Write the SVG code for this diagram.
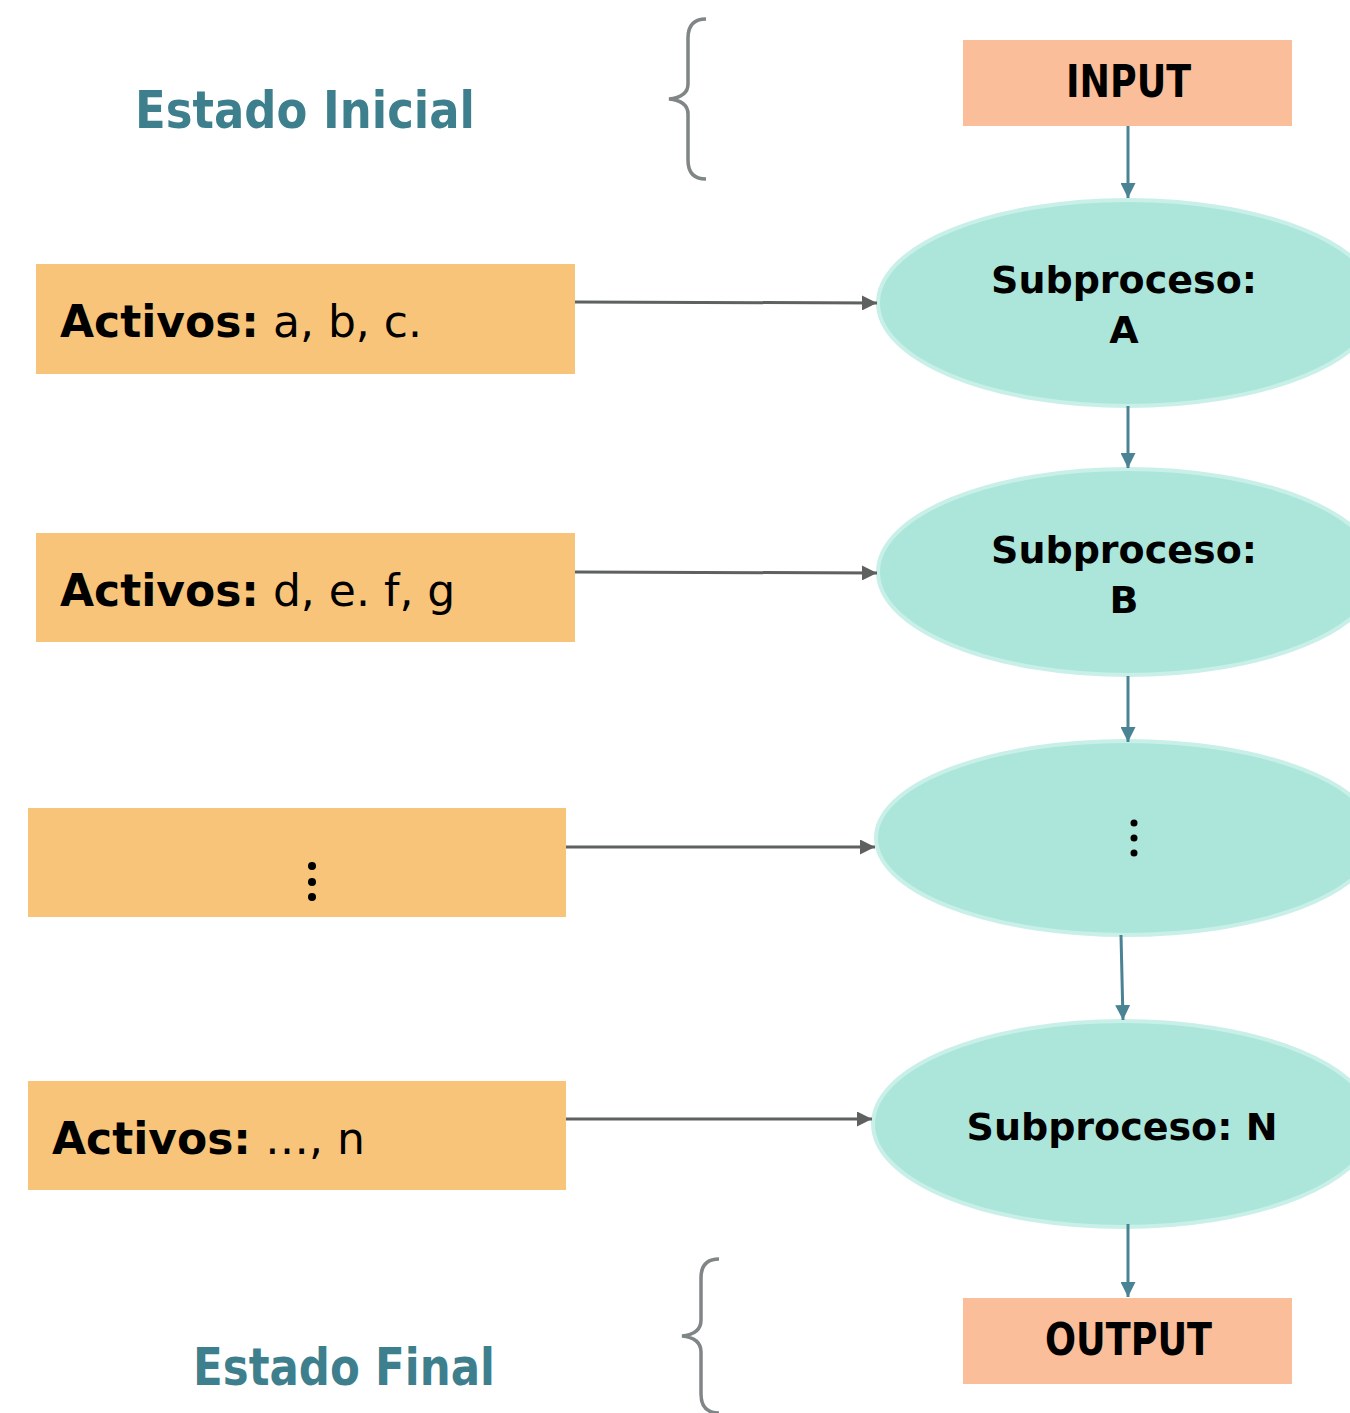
<svg xmlns="http://www.w3.org/2000/svg" width="1350" height="1413" viewBox="0 0 1350 1413">
<defs>
<style>
.ell{fill:#ACE6DA;stroke:#C9F0E8;stroke-width:4}
.org{fill:#F8C47A}
.pch{fill:#FBBE9A}
.lbl{font-family:"DejaVu Sans",sans-serif;font-weight:bold;fill:#000}
.act{font-family:"DejaVu Sans",sans-serif;font-size:44px;fill:#000}
.st{font-family:"DejaVu Sans",sans-serif;font-weight:bold;font-size:52px;fill:#3E7F8E}
.brace{fill:none;stroke:#7F8685;stroke-width:3.5}
.ga{stroke:#5F6060;stroke-width:3;fill:none;marker-end:url(#mg)}
.ba{stroke:#4A8394;stroke-width:3;fill:none;marker-end:url(#mb)}
</style>
<marker id="mg" viewBox="0 0 10 10" refX="10" refY="5" markerWidth="5" markerHeight="5" orient="auto" markerUnits="strokeWidth"><path d="M0,0 L10,5 L0,10 z" fill="#5F6060"/></marker>
<marker id="mb" viewBox="0 0 10 10" refX="10" refY="5" markerWidth="5" markerHeight="5" orient="auto" markerUnits="strokeWidth"><path d="M0,0 L10,5 L0,10 z" fill="#4A8394"/></marker>
</defs>
<rect width="1350" height="1413" fill="#fff"/>

<g id="estado-inicial"><text class="st" x="135" y="128" textLength="340" lengthAdjust="spacingAndGlyphs">Estado Inicial</text></g>
<g id="brace-inicial"><path class="brace" d="M706,19 Q688,19 688,38 L688,84 Q688,97 669,99 Q688,101 688,114 L688,160 Q688,179 706,179"/></g>

<g id="input"><rect class="pch" x="963" y="40" width="329" height="86"/><text class="lbl" x="1066" y="97" font-size="44" textLength="125" lengthAdjust="spacingAndGlyphs">INPUT</text></g>

<g id="subA"><ellipse class="ell" cx="1128" cy="303" rx="250" ry="103"/><text class="lbl" x="1124" y="293" font-size="38" text-anchor="middle">Subproceso:</text><text class="lbl" x="1124" y="343" font-size="38" text-anchor="middle">A</text></g>
<g id="subB"><ellipse class="ell" cx="1128" cy="572" rx="250" ry="103"/><text class="lbl" x="1124" y="563" font-size="38" text-anchor="middle">Subproceso:</text><text class="lbl" x="1124" y="613" font-size="38" text-anchor="middle">B</text></g>
<g id="subDots"><ellipse class="ell" cx="1126" cy="838" rx="250" ry="97"/><circle cx="1134" cy="823" r="3.5"/><circle cx="1134" cy="838" r="3.5"/><circle cx="1134" cy="853" r="3.5"/></g>
<g id="subN"><ellipse class="ell" cx="1123" cy="1124" rx="250" ry="103"/><text class="lbl" x="1122" y="1140" font-size="38" text-anchor="middle">Subproceso: N</text></g>

<g id="output"><rect class="pch" x="963" y="1298" width="329" height="86"/><text class="lbl" x="1045" y="1355" font-size="44" textLength="167" lengthAdjust="spacingAndGlyphs">OUTPUT</text></g>

<g id="estado-final"><text class="st" x="193" y="1385" textLength="302" lengthAdjust="spacingAndGlyphs">Estado Final</text></g>
<g id="brace-final"><path class="brace" d="M719,1259 Q701,1259 701,1278 L701,1320 Q701,1334 682,1336 Q701,1338 701,1352 L701,1394 Q701,1413 719,1413"/></g>

<g id="act1"><rect class="org" x="36" y="264" width="539" height="110"/><text class="act" x="60" y="337"><tspan font-weight="bold">Activos:</tspan> a, b, c.</text></g>
<g id="act2"><rect class="org" x="36" y="533" width="539" height="109"/><text class="act" x="60" y="606"><tspan font-weight="bold">Activos:</tspan> d, e. f, g</text></g>
<g id="act3"><rect class="org" x="28" y="808" width="538" height="109"/><circle cx="312" cy="866" r="4"/><circle cx="312" cy="882" r="4"/><circle cx="312" cy="897" r="4"/></g>
<g id="act4"><rect class="org" x="28" y="1081" width="538" height="109"/><text class="act" x="52" y="1154"><tspan font-weight="bold">Activos:</tspan> …, n</text></g>

<g id="connectors">
<line class="ga" x1="575" y1="302" x2="877" y2="303"/>
<line class="ga" x1="575" y1="572" x2="877" y2="573"/>
<line class="ga" x1="566" y1="847" x2="875" y2="847"/>
<line class="ga" x1="566" y1="1119" x2="872" y2="1119"/>
<line class="ba" x1="1128" y1="126" x2="1128" y2="198"/>
<line class="ba" x1="1128" y1="406" x2="1128" y2="468"/>
<line class="ba" x1="1128" y1="676" x2="1128" y2="742"/>
<line class="ba" x1="1121" y1="935" x2="1123" y2="1020"/>
<line class="ba" x1="1128" y1="1224" x2="1128" y2="1297"/>
</g>
</svg>
